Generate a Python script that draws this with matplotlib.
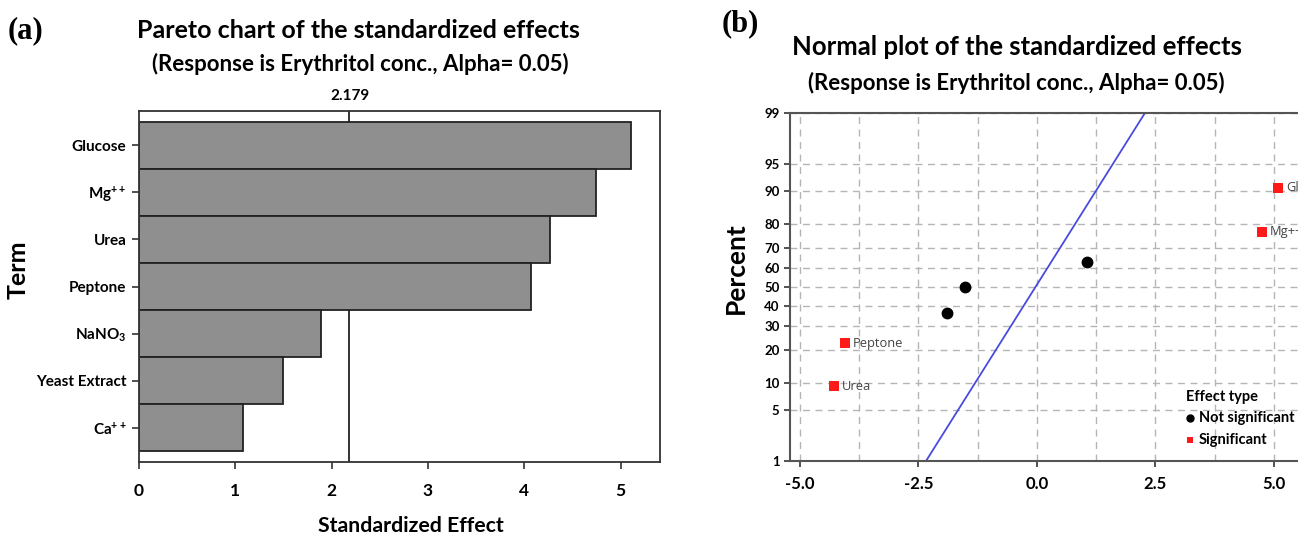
import matplotlib
matplotlib.use('Agg')
import matplotlib.pyplot as plt
import numpy as np
from statistics import NormalDist

plt.rcParams['font.family'] = ['Lato', 'DejaVu Sans']
plt.rcParams['mathtext.fontset'] = 'custom'
plt.rcParams['mathtext.rm'] = 'Lato'
plt.rcParams['mathtext.bf'] = 'Lato:bold'

# (a) Pareto chart data
terms = ['Glucose', r'$\mathbf{Mg^{++}}$', 'Urea', 'Peptone',
         r'$\mathbf{NaNO_3}$', 'Yeast Extract', r'$\mathbf{Ca^{++}}$']
pareto_effects = [5.11, 4.75, 4.27, 4.07, 1.89, 1.50, 1.08]
critical = 2.179

# (b) Normal plot data
effect_names = ['Urea', 'Peptone', 'NaNO3', 'Yeast Extract', 'Ca++', 'Mg++', 'Glucose']
std_effects = [-4.28, -4.05, -1.90, -1.52, 1.06, 4.74, 5.09]
percents = [9.2, 22.6, 36.5, 50.0, 63.0, 77.0, 90.8]
significant = [True, True, False, False, False, True, True]
point_labels = ['Urea', 'Peptone', '', '', '', 'Mg++', 'Glucose']
line_x = [-2.34, 2.28]
line_pct = [1, 99]
pct_ticks = [1, 5, 10, 20, 30, 40, 50, 60, 70, 80, 90, 95, 99]

W, H = 1298, 537
fig = plt.figure(figsize=(W / 100, H / 100), dpi=100)

def fx(px):
    return px / W

def fy(py):
    return 1 - py / H

# ---------- panel (a)
ax1 = fig.add_axes([fx(139), fy(462), (660 - 139) / W, (462 - 111) / H])
ypos = np.arange(len(terms))
ax1.axvline(critical, color='#222222', linewidth=1.3, zorder=1)
ax1.barh(ypos, pareto_effects, height=1.0, color='#8f8f8f', edgecolor='#222222', linewidth=1.3, zorder=2)
ax1.set_ylim(len(terms) - 0.5 + 0.23, -0.5 - 0.23)
ax1.set_xlim(0, 5.41)
ax1.set_yticks(ypos)
ax1.set_yticklabels(terms, fontsize=11, fontweight='bold')
ax1.set_xticks([0, 1, 2, 3, 4, 5])
ax1.set_xticklabels(['0', '1', '2', '3', '4', '5'], fontsize=12.5, fontweight='bold')
ax1.tick_params(axis='both', direction='out', length=5, width=1.2, color='#333333', pad=4)
ax1.tick_params(axis='x', pad=10)
for s in ax1.spines.values():
    s.set_color('#333333')
    s.set_linewidth(1.3)

fig.text(fx(8), fy(31), '(a)', family='Liberation Serif', fontweight='bold', fontsize=22, va='center')
fig.text(fx(358), fy(30), 'Pareto chart of the standardized effects', fontsize=18, fontweight='bold',
         ha='center', va='center')
fig.text(fx(360), fy(64), '(Response is Erythritol conc., Alpha= 0.05)', fontsize=16, fontweight='bold',
         ha='center', va='center')
fig.text(fx(350), fy(96), '2.179', fontsize=11, fontweight='bold', ha='center', va='center')
fig.text(fx(18), fy(270), 'Term', fontsize=18, fontweight='bold', rotation=90, ha='center', va='center')
fig.text(fx(411), fy(526), 'Standardized Effect', fontsize=15.3, fontweight='bold', ha='center', va='center')

# ---------- panel (b)
nd = NormalDist()

def z(p):
    return nd.inv_cdf(p / 100.0)

ax2 = fig.add_axes([fx(790), fy(461), 517 / W, (461 - 113) / H])
ax2.set_xlim(-5.21, 5.70)
ax2.set_ylim(z(1), z(99))
ax2.set_yticks([z(p) for p in pct_ticks])
ax2.set_yticklabels([str(p) for p in pct_ticks], fontsize=9.5, fontweight='bold')
ax2.set_xticks([-5.0, -2.5, 0.0, 2.5, 5.0])
ax2.set_xticklabels(['-5.0', '-2.5', '0.0', '2.5', '5.0'], fontsize=12, fontweight='bold')
ax2.set_xticks(np.arange(-5.0, 5.7, 1.25), minor=True)
ax2.tick_params(axis='x', which='minor', length=0)
ax2.tick_params(axis='both', which='major', direction='out', length=4, width=1.2, color='#333333')
ax2.tick_params(axis='x', pad=7)
ax2.grid(True, which='both', axis='x', linestyle=(0, (5, 4)), color='#b5b5b5', linewidth=1)
ax2.grid(True, which='major', axis='y', linestyle=(0, (5, 4)), color='#b5b5b5', linewidth=1)
ax2.set_axisbelow(True)
for s in ax2.spines.values():
    s.set_color('#555555')
    s.set_linewidth(1.5)

ax2.plot(line_x, [z(p) for p in line_pct], color='#4a4ae0', linewidth=1.3)

for xv, pv, sig, lab in zip(std_effects, percents, significant, point_labels):
    if sig:
        ax2.plot(xv, z(pv), 's', color='#ff1a1a', markersize=7.5, markeredgewidth=0)
    else:
        ax2.plot(xv, z(pv), 'o', color='black', markersize=7.5)
    if lab:
        ax2.text(xv + 0.17, z(pv), lab, fontsize=9.3, color='#444444', va='center', ha='left',
                 family='Open Sans')

# legend drawn as text at the lower right
fig.text(fx(1186), fy(397), 'Effect type', fontsize=10.5, fontweight='bold', va='center')
fig.lines.append(plt.Line2D([fx(1190)], [fy(418)], marker='o', color='black', markersize=5,
                            transform=fig.transFigure, linestyle='none'))
fig.lines.append(plt.Line2D([fx(1190)], [fy(440)], marker='s', color='#ff1a1a', markersize=5,
                            markeredgewidth=0, transform=fig.transFigure, linestyle='none'))
fig.text(fx(1199), fy(418), 'Not significant', fontsize=10.5, fontweight='bold', va='center')
fig.text(fx(1199), fy(440), 'Significant', fontsize=10.5, fontweight='bold', va='center')

fig.text(fx(722), fy(24), '(b)', family='Liberation Serif', fontweight='bold', fontsize=22, va='center')
fig.text(fx(1017), fy(47), 'Normal plot of the standardized effects', fontsize=18.5, fontweight='bold',
         ha='center', va='center')
fig.text(fx(1016), fy(83), '(Response is Erythritol conc., Alpha= 0.05)', fontsize=16, fontweight='bold',
         ha='center', va='center')
fig.text(fx(736), fy(268), 'Percent', fontsize=19, fontweight='bold', rotation=90, ha='center', va='center')

fig.savefig('out.png', dpi=100)
